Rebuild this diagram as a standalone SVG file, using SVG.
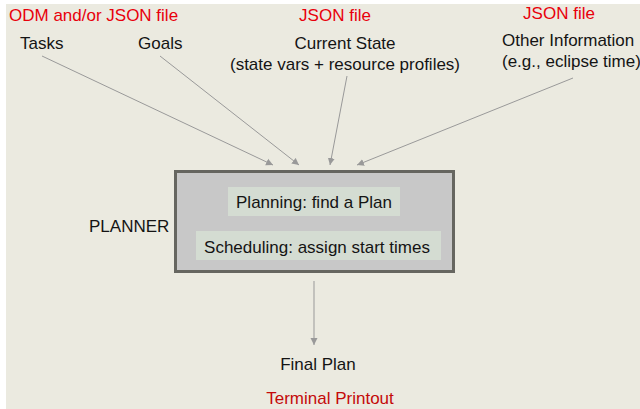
<svg xmlns="http://www.w3.org/2000/svg" width="640" height="409" viewBox="0 0 640 409">
<defs>
<marker id="ah" markerWidth="8" markerHeight="8" refX="7" refY="4" orient="auto" markerUnits="userSpaceOnUse">
<path d="M0,0.5 L7,4 L0,7.5 Z" fill="#999999"/>
</marker>
<style>
.t{font-family:"Liberation Sans",Arial,sans-serif;font-size:17px;fill:#141414}
.r{font-family:"Liberation Sans",Arial,sans-serif;font-size:17px;fill:#E8000B}
.r2{font-family:"Liberation Sans",Arial,sans-serif;font-size:17px;fill:#C40A0A}
.c{stroke:#999999;stroke-width:1;fill:none;marker-end:url(#ah)}
.inner{fill:#D4DCD2}
</style>
</defs>
<rect x="0" y="0" width="640" height="409" fill="#ffffff"/>
<rect x="6" y="4" width="634" height="405" fill="#EBEAE0"/>
<g id="labels-source">
<text class="r" x="9" y="21">ODM and/or JSON file</text>
<text class="r" x="335" y="21" text-anchor="middle">JSON file</text>
<text class="r" x="559" y="19" text-anchor="middle">JSON file</text>
</g>
<g id="tasks"><text class="t" x="20" y="49">Tasks</text></g>
<g id="goals"><text class="t" x="138" y="49">Goals</text></g>
<g id="current-state">
<text class="t" x="345" y="49" text-anchor="middle">Current State</text>
<text class="t" x="345" y="70" text-anchor="middle">(state vars + resource profiles)</text>
</g>
<g id="other-info">
<text class="t" x="502" y="46">Other Information</text>
<text class="t" x="502" y="67">(e.g., eclipse time)</text>
</g>
<g id="planner">
<text class="t" x="89" y="232">PLANNER</text>
<rect x="175.5" y="171.5" width="278" height="100" fill="#C8C8C8" stroke="#666660" stroke-width="3"/>
<rect class="inner" x="228" y="187" width="172" height="29"/>
<text class="t" x="314" y="208" text-anchor="middle">Planning: find a Plan</text>
<rect class="inner" x="196" y="231" width="245" height="29"/>
<text class="t" x="317" y="253" text-anchor="middle">Scheduling: assign start times</text>
</g>
<g id="final-plan">
<text class="t" x="318" y="370" text-anchor="middle">Final Plan</text>
<text class="r2" x="330" y="404" text-anchor="middle">Terminal Printout</text>
</g>
<g id="connectors">
<line class="c" x1="42" y1="56" x2="273" y2="165"/>
<line class="c" x1="160" y1="56" x2="299" y2="165"/>
<line class="c" x1="347" y1="76" x2="330" y2="165"/>
<line class="c" x1="573" y1="78" x2="357" y2="165"/>
<line class="c" x1="314" y1="281" x2="314" y2="345"/>
</g>
</svg>
